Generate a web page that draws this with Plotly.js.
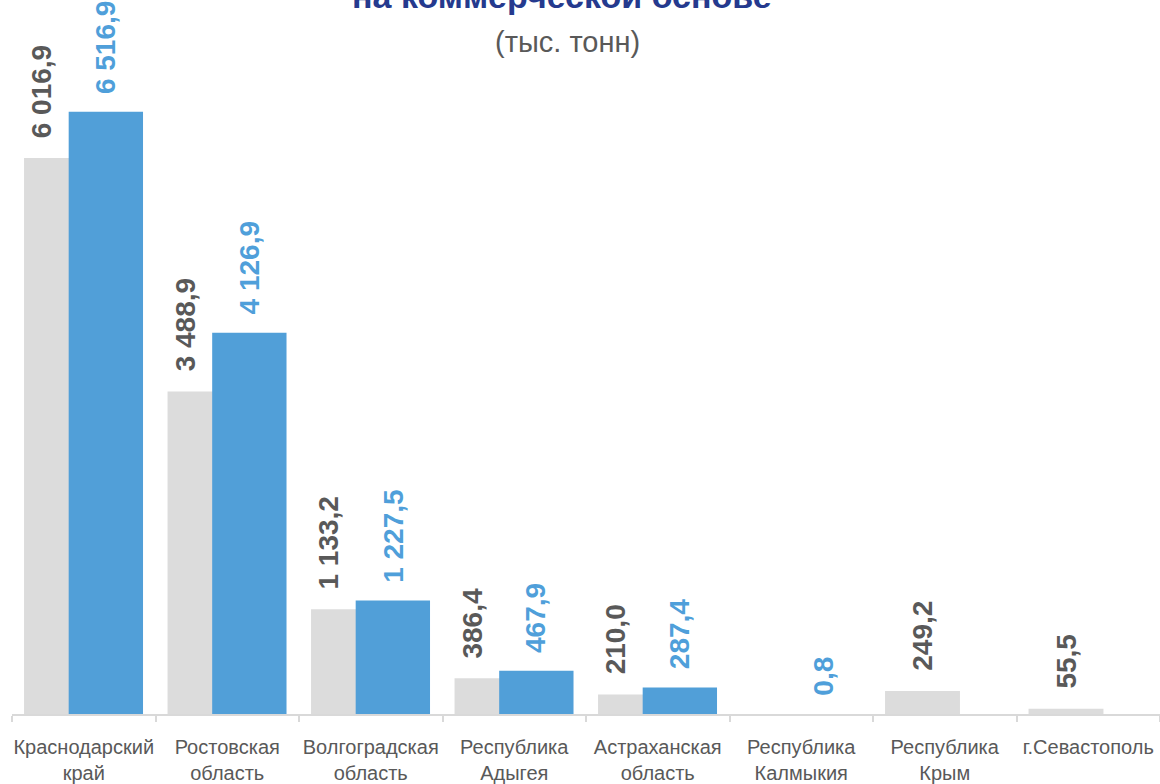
<!DOCTYPE html>
<html>
<head>
<meta charset="utf-8">
<script src="https://cdn.plot.ly/plotly-3.0.1.min.js"></script>
<style>html,body{margin:0;padding:0;background:#fff;}#chart{width:1160px;height:784px;}</style>
</head>
<body>
<div id="chart"></div>
<script>
const categories = ["Краснодарский<br>край","Ростовская<br>область","Волгоградская<br>область","Республика<br>Адыгея","Астраханская<br>область","Республика<br>Калмыкия","Республика<br>Крым","г.Севастополь"];
const prevValues = [6016.9, 3488.9, 1133.2, 386.4, 210.0, null, 249.2, 55.5];
const currValues = [6516.9, 4126.9, 1227.5, 467.9, 287.4, 0.8, null, null];
const titleText = "на коммерческой основе";
const subtitleText = "(тыс. тонн)";

const GRAY = "#dcdcdc", BLUE = "#519fd8", GRAY_TXT = "#595959", BLUE_TXT = "#4f9fda";
const fmt = v => {
  const s = v.toFixed(1).split(".");
  const i = s[0].replace(/\B(?=(\d{3})+(?!\d))/g, "\u00a0");
  return i + "," + s[1];
};

const traces = [
  {type:"bar", x:categories, y:prevValues, offset:-0.416, width:0.522,
   marker:{color:GRAY}, hoverinfo:"skip", showlegend:false},
  {type:"bar", x:categories, y:currValues, offset:-0.105, width:0.518,
   marker:{color:BLUE}, hoverinfo:"skip", showlegend:false}
];

const annotations = [];
const labelFont = {family:"Liberation Sans, Arial, sans-serif", size:28, color:GRAY_TXT};
prevValues.forEach((v,i) => {
  if (v === null) return;
  const hasBlue = currValues[i] !== null;
  annotations.push({x:categories[i], y:v, xref:"x", yref:"y", text:"<b>"+fmt(v)+"</b>",
    showarrow:false, textangle:-90, xanchor:"center", yanchor:"bottom",
    xshift: hasBlue ? -42 : -22, yshift:18,
    font:Object.assign({}, labelFont, {color:GRAY_TXT})});
});
currValues.forEach((v,i) => {
  if (v === null) return;
  annotations.push({x:categories[i], y:v, xref:"x", yref:"y", text:"<b>"+fmt(v)+"</b>",
    showarrow:false, textangle:-90, xanchor:"center", yanchor:"bottom",
    xshift:22, yshift:16,
    font:Object.assign({}, labelFont, {color:BLUE_TXT})});
});
annotations.push({xref:"paper", yref:"paper", x:(562-12)/1148, y:(714-17)/714, text:"<b>"+titleText+"</b>",
  showarrow:false, xanchor:"center", yanchor:"bottom",
  font:{family:"Liberation Sans, Arial, sans-serif", size:34, color:"#253a8e"}});
annotations.push({xref:"paper", yref:"paper", x:(567-12)/1148, y:(714-42)/714, text:subtitleText,
  showarrow:false, xanchor:"center", yanchor:"middle",
  font:{family:"Liberation Sans, Arial, sans-serif", size:29, color:GRAY_TXT}});

const layout = {
  width:1160, height:784,
  margin:{l:12, r:0, t:0, b:70},
  paper_bgcolor:"#fff", plot_bgcolor:"#fff",
  barmode:"overlay",
  showlegend:false,
  xaxis:{type:"category", showline:true, linecolor:"#d9d9d9", linewidth:2,
    ticks:"outside", tickson:"boundaries", ticklen:6, tickcolor:"#d9d9d9", tickwidth:2,
    tickangle:0, automargin:false, ticklabelstandoff:14,
    showgrid:false, zeroline:false, fixedrange:true,
    tickfont:{family:"Liberation Sans, Arial, sans-serif", size:20, color:GRAY_TXT}},
  yaxis:{range:[0,7727], visible:false, showgrid:false, zeroline:false, fixedrange:true},
  annotations:annotations
};
Plotly.newPlot("chart", traces, layout, {displayModeBar:false, staticPlot:true});
</script>
</body>
</html>
